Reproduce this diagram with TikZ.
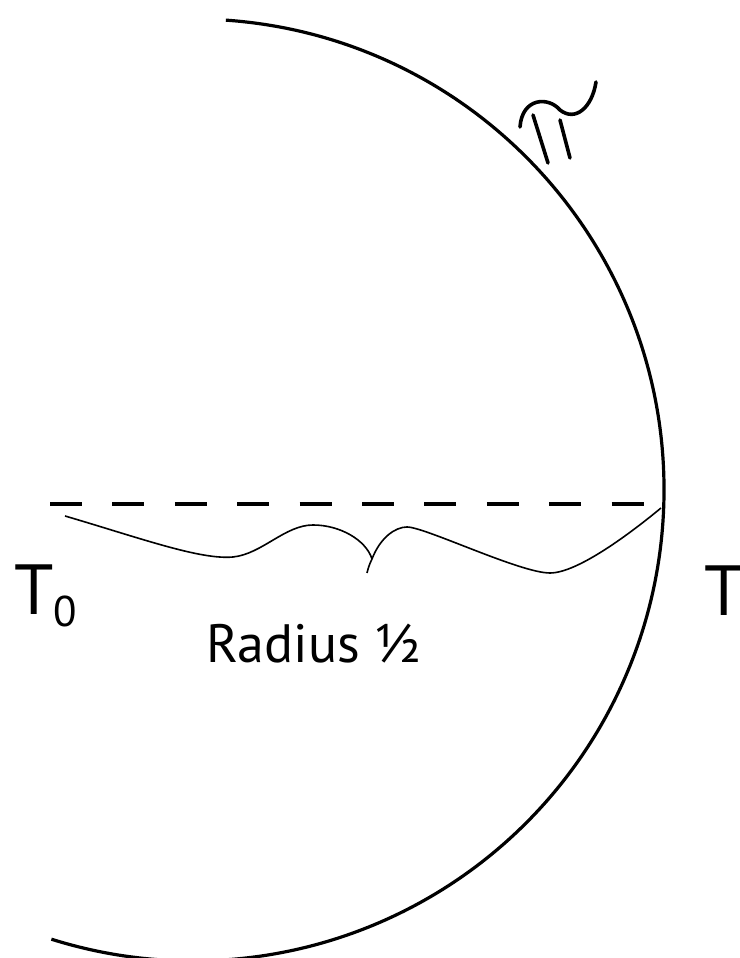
\documentclass[tikz,border=0pt]{standalone}
\usepackage{fontspec}
\setmainfont{PT Sans}
\usetikzlibrary{calc}
\begin{document}
\begin{tikzpicture}[x=1pt,y=1pt,
  arcline/.style={line width=3.2pt},
  dashline/.style={line width=4pt, dash pattern=on 32pt off 30.4pt},
  braceline/.style={line width=1.6pt, line join=round},
  markline/.style={line width=3.6pt, line cap=round},
  lbl/.style={inner sep=0pt, anchor=base west}]
\useasboundingbox (0,0) rectangle (739,958);
% circle arc (centre (193,468), radius 471)
\coordinate (ctr) at (193,468);
\coordinate (arcstart) at ($(ctr)+(86:471)$);
\draw[arcline] (arcstart) arc[start angle=86, end angle=-107.5, radius=471];
% dashed radius line
\coordinate (d0) at (50,454);
\coordinate (d1) at (644,454);
\draw[dashline] (d0) -- (d1);
% hand-drawn brace
\coordinate (b0) at (65,442);
\coordinate (cusp) at (372,399);
\coordinate (tip) at (367,385);
\coordinate (b1) at (661,450);
\draw[braceline] (b0) .. controls (140,420) and (200,398) .. (233,401)
  .. controls (262,404) and (285,433) .. (313,433)
  .. controls (340,433) and (366,418) .. (cusp)
  .. controls (369,393) and (368,389) .. (tip);
\draw[braceline] (cusp) .. controls (380,420) and (395,431) .. (407,431)
  .. controls (425,431) and (520,385) .. (550,385)
  .. controls (578,385) and (632,426) .. (b1);
% mark near top right
\draw[markline] (520,831) .. controls (522,860) and (548,862) .. (560,848)
  .. controls (575,836) and (592,850) .. (596,876);
\draw[markline] (533,843) -- (548,795);
\draw[markline] (560,838) -- (570,800);
% labels
\node[lbl] (t0) at (14,343) {\fontsize{71}{71}\selectfont T\raisebox{-12pt}{\fontsize{43}{43}\selectfont 0}};
\node[lbl] (t1) at (704,342) {\fontsize{71}{71}\selectfont T};
\node[lbl] (rad) at (206,295) {\fontsize{54}{54}\selectfont Radius ½};
\end{tikzpicture}
\end{document}
